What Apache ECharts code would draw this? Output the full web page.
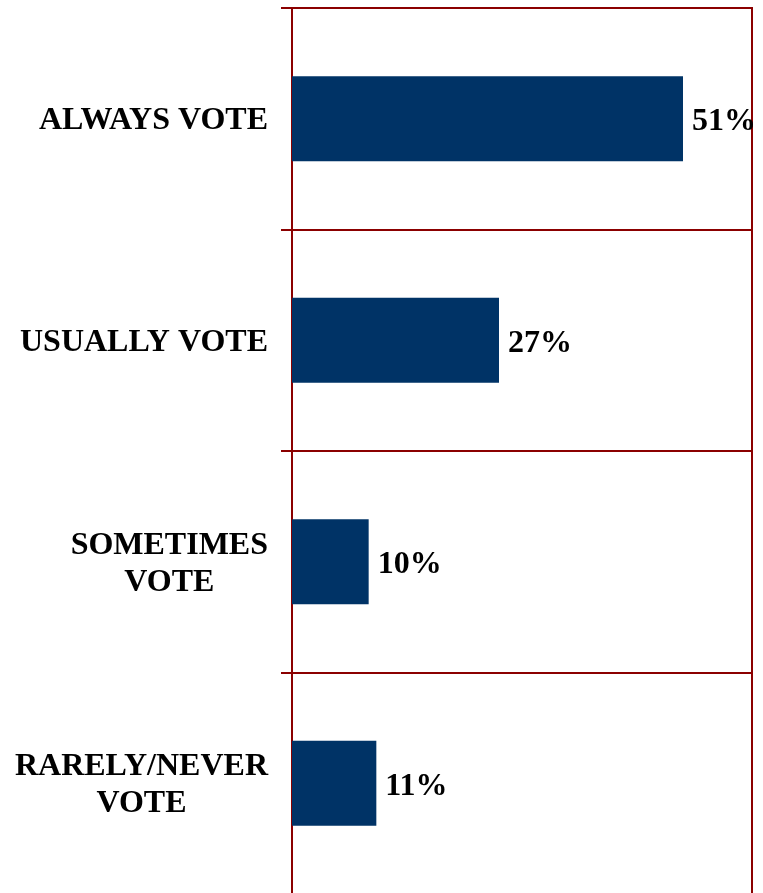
<!DOCTYPE html>
<html>
<head>
<meta charset="utf-8">
<script src="https://cdn.jsdelivr.net/npm/echarts@6/dist/echarts.min.js"></script>
<style>
  html, body { margin: 0; padding: 0; background: #fff; }
  #chart { width: 763px; height: 893px; }
</style>
</head>
<body>
<div id="chart"></div>
<script>
const categories = ['ALWAYS VOTE', 'USUALLY VOTE', 'SOMETIMES\nVOTE', 'RARELY/NEVER\nVOTE'];
const values = [51, 27, 10, 11];

const lineColor = '#8b0000';
const font = '"Liberation Serif", "Times New Roman", serif';

const chart = echarts.init(document.getElementById('chart'));
const option = {
  animation: false,
  grid: {
    left: 292,
    right: 11,
    top: 8,
    bottom: -1,
    outerBoundsMode: 'none',
    show: true,
    borderColor: lineColor,
    borderWidth: 2
  },
  xAxis: {
    type: 'value',
    min: 0,
    max: 60,
    show: false
  },
  yAxis: {
    type: 'category',
    inverse: true,
    data: categories,
    axisLine: { lineStyle: { color: lineColor, width: 2 } },
    axisTick: { show: true, length: 11, lineStyle: { color: lineColor, width: 2 } },
    splitLine: { show: true, lineStyle: { color: lineColor, width: 2 } },
    axisLabel: {
      margin: 24,
      formatter: (v) => v.split('\n').map(s => '{c|' + s + '}').join('\n'),
      rich: {
        c: {
          align: 'center',
          color: '#000',
          fontFamily: font,
          fontWeight: 'bold',
          fontSize: 32,
          lineHeight: 37,
          padding: [4, 0, 0, 0]
        }
      }
    }
  },
  series: [
    {
      type: 'bar',
      data: values,
      barWidth: 85,
      itemStyle: { color: '#003366' },
      label: {
        show: true,
        position: 'right',
        distance: 9,
        offset: [0, 3],
        formatter: '{c}%',
        color: '#000',
        fontFamily: font,
        fontWeight: 'bold',
        fontSize: 32
      }
    }
  ]
};
chart.setOption(option);
</script>
</body>
</html>
